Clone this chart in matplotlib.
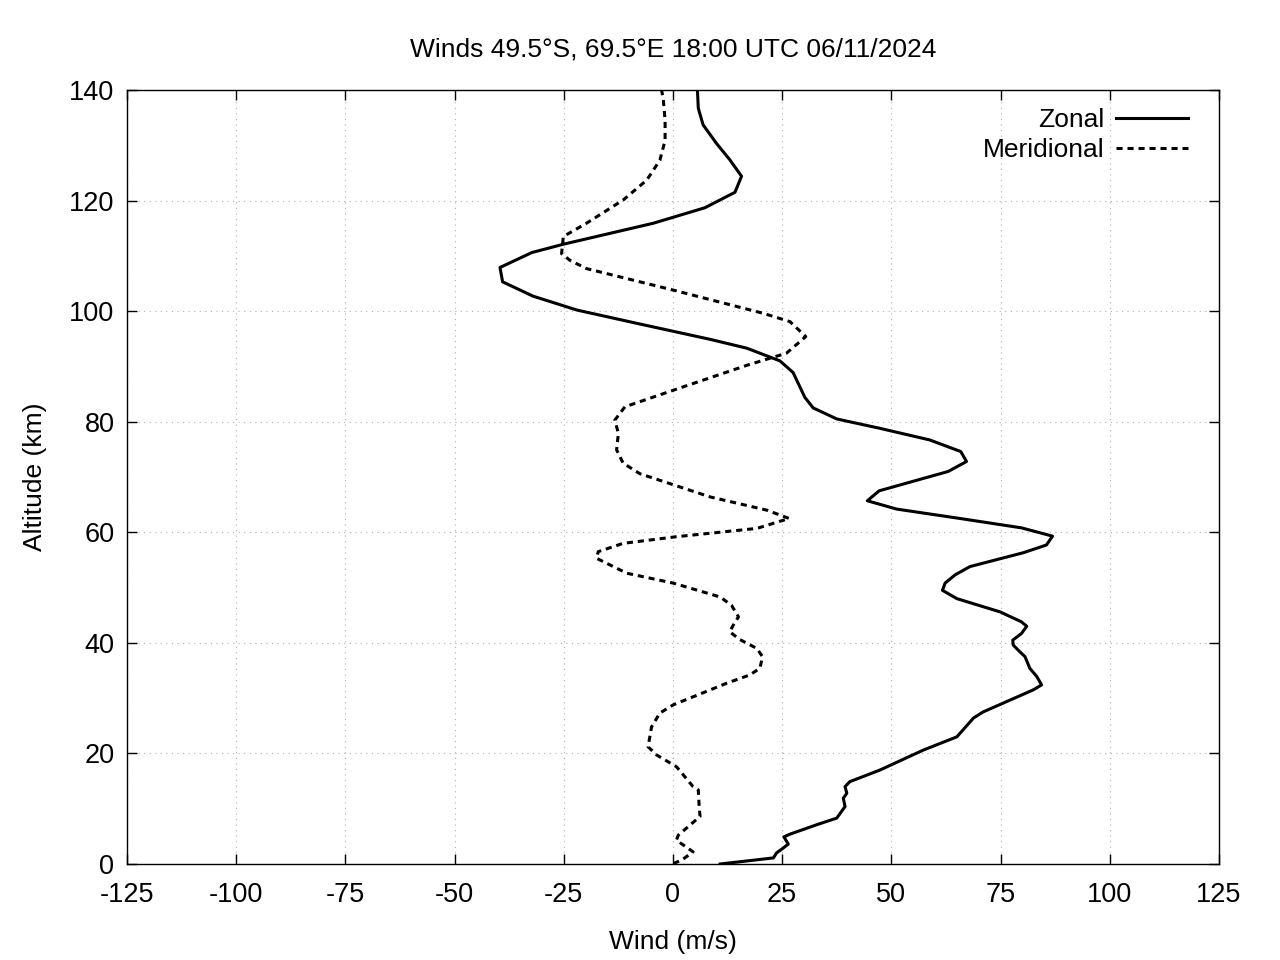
import numpy as np
import matplotlib
matplotlib.use("Agg")
import matplotlib.pyplot as plt

# perfiles (viento en m/s, altitud en km)
zonal_wind = [10.8, 23.0, 23.7, 25.1, 26.4, 25.4, 26.8, 32.9, 37.5, 39.4, 39.0, 39.8, 39.4, 40.5,
              47.4, 57.3, 65.0, 68.8, 71.0, 82.5, 84.4, 83.3, 81.7, 80.6, 79.4, 77.9, 77.8, 79.8,
              81.0, 79.8, 74.9, 65.0, 61.7, 62.3, 64.6, 68.0, 80.2, 85.5, 86.9, 79.8, 65.7, 51.2,
              44.5, 47.2, 63.0, 67.2, 65.9, 58.8, 47.4, 37.5, 32.1, 30.2, 28.7, 27.5, 24.5, 16.9,
              8.5, -8.3, -22.0, -32.0, -39.0, -39.6, -32.3, -25.1, -4.5, 7.3, 14.2, 15.7, 13.0,
              10.0, 6.9, 5.8, 5.6]
zonal_alt = [0.0, 1.1, 2.0, 2.8, 3.6, 4.9, 5.4, 7.1, 8.3, 10.4, 11.9, 12.8, 14.0, 14.9,
             17.0, 20.6, 23.0, 26.4, 27.5, 31.5, 32.4, 33.9, 35.4, 37.5, 38.4, 39.6, 40.5, 41.7,
             43.0, 43.8, 45.6, 48.0, 49.5, 50.8, 52.3, 53.8, 56.3, 57.7, 59.3, 60.8, 62.5, 64.2,
             65.7, 67.5, 71.0, 72.8, 74.6, 76.7, 78.8, 80.5, 82.5, 84.4, 86.9, 88.9, 91.0, 93.3,
             94.9, 97.8, 100.2, 102.7, 105.3, 107.9, 110.6, 112.1, 115.9, 118.7, 121.5, 124.4, 127.4,
             130.3, 133.7, 136.7, 140.0]

merid_wind = [0.1, 2.0, 4.6, 0.8, 1.2, 6.2, 6.0, 5.8, 4.6, 0.8, -3.7, -5.7, -4.9, -3.0, 0.1,
              12.3, 17.6, 19.9, 20.5, 19.2, 15.3, 13.0, 13.8, 15.0, 13.4, 10.8, 0.1, -10.6, -17.5,
              -17.1, -11.4, 0.8, 19.2, 26.6, 21.5, 8.5, -7.6, -11.4, -12.9, -12.5, -13.3, -11.0,
              0.1, 16.9, 26.0, 30.4, 26.8, 20.7, 0.1, -19.8, -23.6, -25.5, -25.1, -19.8, -11.4,
              -6.0, -3.0, -1.8, -1.8, -2.2, -2.6]
merid_alt = [0.1, 0.7, 2.2, 4.3, 5.2, 8.6, 10.4, 13.4, 14.0, 17.6, 19.7, 21.2, 24.8, 27.3, 28.8,
             32.7, 34.2, 35.4, 37.5, 39.0, 40.6, 42.0, 43.2, 44.7, 46.8, 48.3, 50.8, 52.6, 55.3,
             56.5, 58.0, 59.2, 60.7, 62.5, 64.0, 66.4, 70.6, 72.5, 74.9, 77.9, 80.3, 82.7,
             85.7, 90.2, 92.4, 95.4, 98.1, 99.6, 103.8, 107.7, 109.2, 110.4, 113.5, 115.9, 120.1,
             123.7, 127.3, 130.9, 134.5, 138.2, 140.0]

xticks = np.arange(-125, 126, 25)
yticks = np.arange(0, 141, 20)

plt.rcParams['font.family'] = ['Liberation Sans', 'DejaVu Sans']
plt.rcParams['axes.unicode_minus'] = False

fig = plt.figure(figsize=(12.8, 9.6), dpi=100)
ax = fig.add_axes([0.0992, 0.1, 0.8531, 0.80625])

ax.plot(zonal_wind, zonal_alt, color="black", linewidth=2.2, label="Zonal")
ax.plot(merid_wind, merid_alt, color="black", linewidth=2.2, linestyle=(0, (2, 1.6)),
        label="Meridional")

ax.set_xlim(-125, 125)
ax.set_ylim(0, 140)
ax.set_xticks(xticks)
ax.set_yticks(yticks)
ax.tick_params(direction="in", length=7, width=1, labelsize=19.5, top=True, right=True)
ax.tick_params(axis="x", pad=13)
ax.tick_params(axis="y", pad=9)
ax.grid(True, color="#b0b0b0", linestyle=(0, (1, 4)), linewidth=0.8)
for s in ax.spines.values():
    s.set_linewidth(1)

ax.set_xlabel("Wind (m/s)", fontsize=19, labelpad=16)
ax.set_ylabel("Altitude (km)", fontsize=19, labelpad=16)
ax.set_title("Winds 49.5°S, 69.5°E 18:00 UTC 06/11/2024", fontsize=19, pad=24)

ax.legend(loc="upper right", bbox_to_anchor=(0.993, 1.007), frameon=False, markerfirst=False,
          fontsize=19, handlelength=2.7, handletextpad=0.45, labelspacing=0.22, borderaxespad=0.5)

plt.savefig("out.png", dpi=100)
